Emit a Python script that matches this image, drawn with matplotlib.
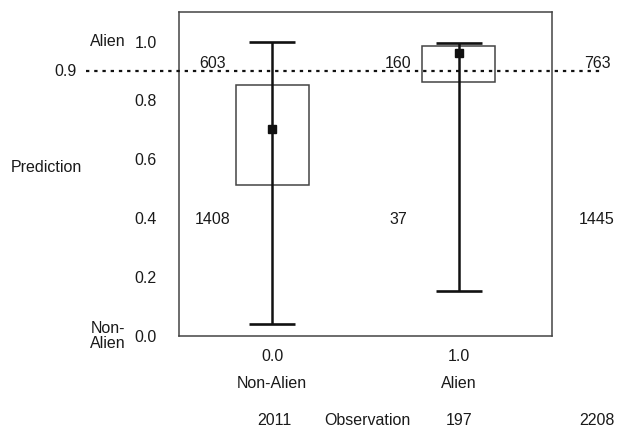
import matplotlib
matplotlib.use("Agg")
import matplotlib.pyplot as plt

plt.rcParams["font.family"] = ["Liberation Sans", "DejaVu Sans"]

# === DATA ===
positions = [0.0, 1.0]
class_labels = ["Non-Alien", "Alien"]
box_low = [0.514, 0.861]
box_high = [0.854, 0.985]
means = [0.704, 0.960]
whisker_low = [0.041, 0.154]
whisker_high = [0.997, 0.994]
threshold = 0.9
counts_above = [603, 160, 763]
counts_below = [1408, 37, 1445]
obs_totals = [2011, 197, 2208]
y_ticks = [0.0, 0.2, 0.4, 0.6, 0.8, 1.0]

FS = 11.5
TXT = "#1a1a1a"

fig = plt.figure(figsize=(6.17, 4.33), dpi=100)
ax = fig.add_axes([0.290, 0.224, 0.605, 0.748])

# boxes
heights = [h - l for h, l in zip(box_high, box_low)]
ax.bar(positions, heights, bottom=box_low, width=0.39, fill=False,
       edgecolor="#444444", linewidth=1.1, zorder=2)

# whiskers + mean
yerr = [[m - l for m, l in zip(means, whisker_low)],
        [h - m for h, m in zip(whisker_high, means)]]
ax.errorbar(positions, means, yerr=yerr, fmt="s", color="#111111",
            markersize=6, elinewidth=1.8, capsize=16.5, capthick=1.9, zorder=3)

# threshold line spanning outside the frame
ax.plot([-1.0, 1.755], [threshold, threshold], linestyle=(0, (1.5, 2.2)),
        color="#111111", linewidth=1.6, clip_on=False, zorder=4)

ax.set_xlim(-0.5, 1.5)
ax.set_ylim(0, 1.1)
ax.set_xticks(positions)
ax.set_xticklabels([f"{p:.1f}" for p in positions])
ax.set_yticks(y_ticks)
ax.set_yticklabels([f"{t:.1f}" for t in y_ticks])
ax.tick_params(axis="y", length=0, pad=16, labelsize=FS, labelcolor=TXT)
ax.tick_params(axis="x", length=0, pad=9, labelsize=FS, labelcolor=TXT)
for s in ax.spines.values():
    s.set_color("#444444")
    s.set_linewidth(1.1)

kw = dict(fontsize=FS, color=TXT, clip_on=False)

# counts around the threshold
count_x = [-0.32, 0.675, 1.74]
for x, a, b in zip(count_x, counts_above, counts_below):
    ax.text(x, 0.925, str(a), ha="center", va="center", **kw)
    ax.text(x, 0.395, str(b), ha="center", va="center", **kw)

# left annotations
ax.text(-1.05, threshold, "0.9", ha="right", va="center", **kw)
ax.text(-0.975, 1.0, "Alien", ha="left", va="center", **kw)
ax.text(-0.975, 0.0, "Non-\nAlien", ha="left", va="center", linespacing=1.0, **kw)
ax.text(-1.40, 0.571, "Prediction", ha="left", va="center", **kw)

# bottom annotations
for x, lab in zip(positions, class_labels):
    ax.text(x, -0.160, lab, ha="center", va="center", **kw)
bottom_x = [0.01, 1.0, 1.74]
for x, n in zip(bottom_x, obs_totals):
    ax.text(x, -0.286, str(n), ha="center", va="center", **kw)
ax.text(0.51, -0.286, "Observation", ha="center", va="center", **kw)

fig.savefig("out.png", dpi=100)
